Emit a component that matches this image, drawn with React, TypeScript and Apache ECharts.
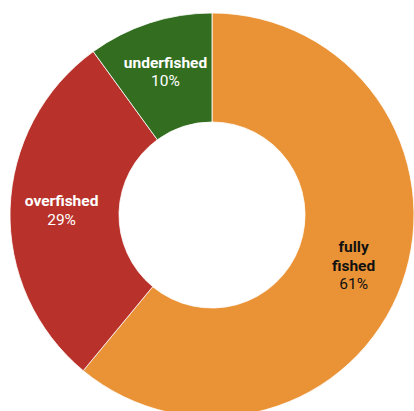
import React, { useEffect, useRef } from "react";
import * as echarts from "echarts";

const categories = ["fully\nfished", "overfished", "underfished"];
const values = [61, 29, 10];
const colors = ["#EA9336", "#B8322B", "#336E20"];
const labelColors = ["#111111", "#ffffff", "#ffffff"];

export default function App() {
  const ref = useRef<HTMLDivElement>(null);
  useEffect(() => {
    const chart = echarts.init(ref.current!, null, { renderer: "svg" });
    chart.setOption({
      animation: false,
      series: [
        {
          type: "pie",
          center: [212, 215],
          radius: [93, 202],
          startAngle: 90,
          clockwise: true,
          avoidLabelOverlap: false,
          itemStyle: { borderColor: "#ffffff", borderWidth: 0.8 },
          label: {
            show: true,
            position: "inside",
            formatter: (p: any) => `{b|${p.name}}\n{p|${p.value}%}`,
          },
          labelLine: { show: false },
          emphasis: { disabled: true },
          data: categories.map((c, i) => ({
            name: c,
            value: values[i],
            itemStyle: { color: colors[i] },
            label: {
              rich: {
                b: { fontFamily: "Roboto", fontWeight: "bold", fontSize: 15.5, lineHeight: 18.5, color: labelColors[i], align: "center" },
                p: { fontFamily: "Roboto", fontWeight: "normal", fontSize: 15.5, lineHeight: 18.5, color: labelColors[i], align: "center" },
              },
            },
          })),
        },
      ],
    });
    return () => chart.dispose();
  }, []);
  return (
    <div
      ref={ref}
      style={{ position: "fixed", left: 0, top: 0, width: 414, height: 411, background: "#fff" }}
    />
  );
}
